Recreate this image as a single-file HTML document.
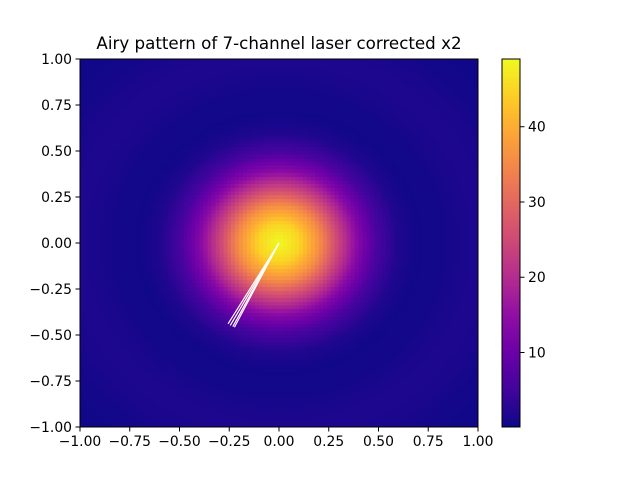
<!DOCTYPE html>
<html><head><meta charset="utf-8"><style>
body{margin:0;background:#fff;font-family:"DejaVu Sans","Liberation Sans",sans-serif;}
#wrap{position:relative;width:640px;height:480px;}
canvas{position:absolute;image-rendering:pixelated;}
svg{position:absolute;left:0;top:0;}
</style></head><body>
<div id="wrap">
<canvas id="heat" width="100" height="100" style="left:80px;top:59px;width:398px;height:368px"></canvas>
<canvas id="cbar" width="1" height="200" style="left:502px;top:59px;width:18px;height:368px"></canvas>
<svg id="svg" width="640" height="480"></svg>
</div>
<script>
const radii=[0,0.1,0.2,0.3,0.4,0.5,0.6,0.7,0.8,0.9,1.0,1.1,1.2,1.3,1.4];
const profile=[49,45,36,24,13,5.5,1.8,0.5,0.6,1.2,1.6,1.4,0.9,0.5,0.4];
const xTicks=[-1,-0.75,-0.5,-0.25,0,0.25,0.5,0.75,1];
const yTicks=[-1,-0.75,-0.5,-0.25,0,0.25,0.5,0.75,1];
const cTicks=[10,20,30,40];
const lineEndX=[-0.256,-0.245,-0.232,-0.224];
const lineEndY=[-0.439,-0.448,-0.454,-0.458];
const vmin=0.1,vmax=49;
const L=80,R=478,T=59,B=427;
const sx=v=>L+(v+1)/2*(R-L), sy=v=>B-(v+1)/2*(B-T);
const cy=v=>B-(v-vmin)/(vmax-vmin)*(B-T);
const stops=["#0d0887","#41049d","#6a00a8","#8f0da4","#b12a90","#cc4778","#e16462","#f2844b","#fca636","#fcce25","#f0f921"].map(h=>[1,3,5].map(i=>parseInt(h.substr(i,2),16)));
function cmap(t){t=Math.max(0,Math.min(1,t));const f=t*10,i=Math.min(9,Math.floor(f)),u=f-i;return stops[i].map((c,k)=>Math.round(c+(stops[i+1][k]-c)*u));}
function prof(r){for(let i=0;i<radii.length-1;i++){if(r<=radii[i+1]){const u=(r-radii[i])/(radii[i+1]-radii[i]);return profile[i]+(profile[i+1]-profile[i])*u;}}return profile[profile.length-1];}
const hc=document.getElementById('heat').getContext('2d');const img=hc.createImageData(100,100);
for(let j=0;j<100;j++)for(let i=0;i<100;i++){const x=-1+(i+0.5)/50,y=1-(j+0.5)/50;const v=prof(Math.hypot(x,y));const c=cmap((v-vmin)/(vmax-vmin));const p=(j*100+i)*4;img.data[p]=c[0];img.data[p+1]=c[1];img.data[p+2]=c[2];img.data[p+3]=255;}
hc.putImageData(img,0,0);
const cc=document.getElementById('cbar').getContext('2d');
for(let j=0;j<200;j++){const c=cmap(1-(j+0.5)/200);cc.fillStyle=`rgb(${c})`;cc.fillRect(0,j,1,1);}
const svg=document.getElementById('svg');const NS="http://www.w3.org/2000/svg";
function add(tag,attrs,name,text){const e=document.createElementNS(NS,tag);for(const k in attrs)e.setAttribute(k,attrs[k]);


if(text!==undefined)e.textContent=text;svg.appendChild(e);return e;}
lineEndX.forEach((ex,i)=>add('line',{x1:sx(0),y1:sy(0),x2:sx(ex),y2:sy(lineEndY[i]),stroke:'#fff','stroke-width':1.2},'white-line'));
add('rect',{x:L,y:T,width:R-L,height:B-T,fill:'none',stroke:'#000','stroke-width':1},'plot-frame');
add('rect',{x:502,y:T,width:18,height:B-T,fill:'none',stroke:'#000','stroke-width':1},'colorbar-frame');
const fmt=v=>v.toFixed(2).replace('-','\u2212');
xTicks.forEach(v=>{add('line',{x1:sx(v),y1:B,x2:sx(v),y2:B+4.5,stroke:'#000'},'x-tick');add('text',{x:sx(v),y:B+19,'font-size':13.9,'text-anchor':'middle'},'x-tick-label',fmt(v));});
yTicks.forEach(v=>{add('line',{x1:L-4.5,y1:sy(v),x2:L,y2:sy(v),stroke:'#000'},'y-tick');add('text',{x:L-8,y:sy(v)+5,'font-size':13.9,'text-anchor':'end'},'y-tick-label',fmt(v));});
cTicks.forEach(v=>{add('line',{x1:520,y1:cy(v),x2:524.5,y2:cy(v),stroke:'#000'},'colorbar-tick');add('text',{x:528,y:cy(v)+5,'font-size':13.9},'colorbar-tick-label',String(v));});
add('text',{x:(L+R)/2,y:49,'font-size':16.7,'text-anchor':'middle'},'chart-title','Airy pattern of 7-channel laser corrected x2');
</script>
</body></html>
